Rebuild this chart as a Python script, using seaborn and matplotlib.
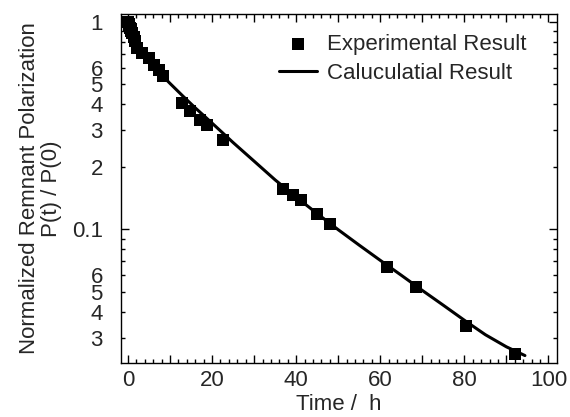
import matplotlib
matplotlib.use("Agg")
import matplotlib.pyplot as plt
import seaborn as sns
import pandas as pd
import numpy as np

exp_t = [0.0, 0.17, 0.33, 0.5, 0.67, 0.83, 1.0, 1.33, 1.67, 2.1, 3.3, 4.9, 6.1, 7.3, 8.3,
         12.8, 14.8, 17.2, 18.8, 22.7, 36.9, 39.2, 41.1, 45.0, 48.1, 61.5, 68.4, 80.5, 92.0]
exp_p = [1.0, 0.98, 0.96, 0.94, 0.92, 0.90, 0.88, 0.85, 0.81, 0.748, 0.707, 0.668, 0.621, 0.587, 0.546,
         0.406, 0.371, 0.338, 0.320, 0.271, 0.156, 0.147, 0.138, 0.119, 0.106, 0.0659, 0.0524, 0.0343, 0.0251]

# Calculated curve
calc_t = [0, 0.5, 1, 1.5, 2, 3, 4, 5, 6, 8, 10, 13, 16, 20, 25, 30, 35, 40, 45, 50, 55, 60, 65, 70,
          75, 80, 85, 90, 94.4]
calc_p = [1.0, 0.92, 0.86, 0.815, 0.78, 0.725, 0.68, 0.643, 0.61, 0.555, 0.505, 0.44, 0.385, 0.325,
          0.262, 0.213, 0.173, 0.143, 0.119, 0.0995, 0.0838, 0.0708, 0.0600, 0.0507, 0.0430, 0.0364,
          0.0310, 0.0271, 0.0246]

xlabels_major = ["0", "", "20", "", "40", "", "60", "", "80", "", "100"]
ylabels_major = ["0.1", "1"]

sns.set_style("ticks")
plt.rcParams['font.family'] = ['Liberation Sans', 'DejaVu Sans']

fig = plt.figure(figsize=(5.7, 4.17), dpi=100)
ax = fig.add_axes([0.212, 0.13, 0.765, 0.836])

df_exp = pd.DataFrame({"t": exp_t, "p": exp_p})
df_calc = pd.DataFrame({"t": calc_t, "p": calc_p})

sns.scatterplot(data=df_exp, x="t", y="p", marker="s", s=72, color="black",
                edgecolor="black", linewidth=0, ax=ax, label="Experimental Result", zorder=3)
sns.lineplot(data=df_calc, x="t", y="p", color="black", linewidth=2.2, ax=ax,
             label="Caluculatial Result", zorder=2, sort=False, estimator=None)

ax.set_yscale("log")
ax.set_xlim(-1.7, 102)
ax.set_ylim(0.0227, 1.09)

ax.set_xticks(np.arange(0, 101, 10), labels=xlabels_major)
ax.set_xticks(np.arange(0, 101, 2), minor=True)

ax.set_yticks([0.1, 1], labels=ylabels_major)
minor_pos = [0.03, 0.04, 0.05, 0.06, 0.07, 0.08, 0.09, 0.2, 0.3, 0.4, 0.5, 0.6, 0.7, 0.8, 0.9]
minor_lab = ["3", "4", "5", "6", "", "", "", "2", "3", "4", "5", "6", "", "", ""]
ax.set_yticks(minor_pos, labels=minor_lab, minor=True)

ax.tick_params(which="both", direction="in", top=True, right=True, color="black",
               labelsize=16, width=1)
ax.tick_params(which="major", length=6)
ax.tick_params(which="minor", length=3)
ax.tick_params(axis="y", which="both", pad=13)
ax.tick_params(axis="x", which="both", pad=5)

for sp in ax.spines.values():
    sp.set_color("black")
    sp.set_linewidth(1)

ax.set_xlabel("Time /  h", fontsize=16, labelpad=2)
ax.set_ylabel("Normalized Remnant Polarization\nP(t) / P(0)", fontsize=16, labelpad=7,
              linespacing=1.05)

leg = ax.legend(loc="upper right", frameon=False, fontsize=16, handlelength=1.7,
                borderaxespad=0.0, borderpad=0.2, handletextpad=0.45, labelspacing=0.35,
                bbox_to_anchor=(0.94, 0.955))

fig.savefig("out.png", dpi=100)
